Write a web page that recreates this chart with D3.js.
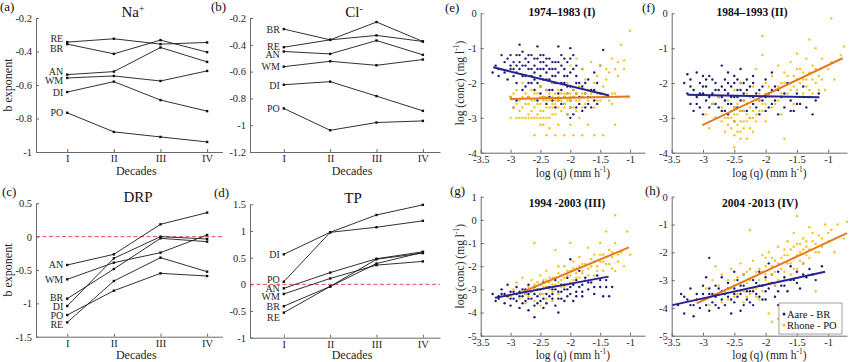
<!DOCTYPE html>
<html>
<head>
<meta charset="utf-8">
<script src="https://cdn.jsdelivr.net/npm/d3@7"></script>
<style>
  body { margin: 0; background: #fff; }
  svg { display: block; font-family: "Liberation Serif", "Times New Roman", serif; }
  .axis path, .axis line { stroke: #6a6a6a; }
  .lbl { fill: #262626; }
  .tag { font-size: 13px; fill: #111; }
</style>
</head>
<body>
<svg id="chart" width="850" height="362"></svg>
<script>
// ---- data ----
const decades = ["I", "II", "III", "IV"];

// (a) Na+
const naStations = ["RE", "BR", "AN", "WM", "DI", "PO"];
const naValues = [
  [-0.344, -0.324, -0.356, -0.346],
  [-0.356, -0.414, -0.332, -0.404],
  [-0.538, -0.520, -0.376, -0.462],
  [-0.558, -0.546, -0.576, -0.516],
  [-0.642, -0.580, -0.690, -0.756],
  [-0.766, -0.880, -0.910, -0.940]
];
const naLabelAt = [-0.32, -0.38, -0.522, -0.574, -0.646, -0.766];
const naTicks = [-1, -0.8, -0.6, -0.4, -0.2];

// (b) Cl-
const clStations = ["BR", "RE", "AN", "WM", "DI", "PO"];
const clValues = [
  [-0.283, -0.363, -0.230, -0.375],
  [-0.418, -0.363, -0.330, -0.375],
  [-0.450, -0.468, -0.368, -0.475],
  [-0.563, -0.523, -0.553, -0.510],
  [-0.698, -0.675, -0.783, -0.893],
  [-0.875, -1.038, -0.980, -0.968]
];
const clLabelAt = [-0.283, -0.415, -0.472, -0.563, -0.70, -0.875];
const clTicks = [-1.2, -1, -0.8, -0.6, -0.4, -0.2];

// (c) DRP
const drpStations = ["AN", "WM", "BR", "DI", "PO", "RE"];
const drpValues = [
  [-0.425, -0.265, 0.185, 0.36],
  [-0.64, -0.39, -0.24, 0.025],
  [-0.93, -0.485, -0.025, -0.075],
  [-1.04, -0.325, 0.0, -0.035],
  [-1.175, -0.81, -0.55, -0.59],
  [-1.285, -0.665, -0.315, -0.525]
];
const drpLabelAt = [-0.415, -0.64, -0.915, -1.04, -1.185, -1.315];
const drpTicks = [-1.5, -1, -0.5, 0, 0.5];

// (d) TP
const tpStations = ["DI", "PO", "AN", "WM", "BR", "RE"];
const tpValues = [
  [0.5625, 0.975, 1.30, 1.49],
  [0.05, 0.975, 1.07, 1.19],
  [-0.075, 0.22, 0.48, 0.61],
  [-0.18, 0.11, 0.36, 0.43],
  [-0.41, -0.04, 0.47, 0.585],
  [-0.53, -0.04, 0.39, 0.60]
];
const tpLabelAt = [0.5625, 0.094, -0.075, -0.22, -0.406, -0.625];
const tpTicks = [-1, -0.5, 0, 0.5, 1, 1.5];

// (e)-(h) log(q) vs log(conc)
const qTicks = [-3.5, -3, -2.5, -2, -1.5, -1];
const concTicks4 = [-4, -3, -2, -1, 0];
const concTicks6 = [-5, -4, -3, -2, -1, 0, 1];
const concTicks5 = [-5, -4, -3, -2, -1, 0];

const eAare = [[-3.3,-1.7],[-3.25,-1.5],[-3.2,-1.6],[-3.2,-1.8],[-3.15,-1.2],[-3.1,-1.4],[-3.1,-1.7],[-3.05,-1.9],[-3.0,-1.2],[-3.0,-1.5],[-3.0,-1.6],[-3.0,-2.4],[-2.95,-1.4],[-2.95,-1.8],[-2.95,-2.7],[-2.9,-1.2],[-2.9,-2.0],[-2.9,-2.5],[-2.85,-0.9],[-2.85,-1.4],[-2.85,-1.6],[-2.8,-1.1],[-2.8,-1.5],[-2.8,-2.2],[-2.75,-1.3],[-2.75,-1.8],[-2.7,-1.4],[-2.7,-2.0],[-2.7,-2.4],[-2.65,-1.2],[-2.65,-1.6],[-2.6,-1.5],[-2.6,-1.9],[-2.6,-2.2],[-2.55,-0.95],[-2.55,-1.3],[-2.55,-2.5],[-2.5,-1.4],[-2.5,-1.8],[-2.5,-2.1],[-2.45,-1.2],[-2.45,-1.6],[-2.45,-2.4],[-2.4,-1.5],[-2.4,-1.9],[-2.4,-2.6],[-2.35,-1.3],[-2.35,-2.2],[-2.3,-1.6],[-2.3,-2.0],[-2.3,-2.5],[-2.25,-1.4],[-2.25,-1.8],[-2.25,-2.7],[-2.2,-0.95],[-2.2,-2.3],[-2.15,-1.5],[-2.15,-2.0],[-2.15,-2.6],[-2.1,-1.3],[-2.1,-1.8],[-2.1,-2.4],[-2.05,-1.4],[-2.05,-2.1],[-2.05,-2.9],[-2.0,-1.0],[-2.0,-1.7],[-2.0,-2.5],[-2.0,-3.0],[-1.95,-1.2],[-1.95,-2.2],[-1.9,-1.5],[-1.9,-2.0],[-1.9,-2.7],[-1.85,-2.4],[-1.8,-1.6],[-1.8,-2.1],[-1.8,-2.8],[-1.75,-2.3],[-1.7,-1.9],[-1.7,-2.6],[-1.65,-2.2],[-1.6,-2.5],[-1.6,-1.7],[-1.55,-2.0],[-1.5,-2.3],[-1.5,-1.5],[-1.45,-1.05],
  [-3.05,-1.3],[-2.95,-1.6],[-2.9,-1.5],[-2.9,-1.7],[-2.85,-1.2],[-2.8,-1.8],[-2.75,-1.5],[-2.75,-2.1],[-2.7,-1.6],[-2.7,-1.2],[-2.65,-1.8],[-2.65,-2.0],[-2.6,-1.3],[-2.6,-1.7],[-2.55,-1.6],[-2.55,-2.0],[-2.5,-1.2],[-2.5,-1.6],[-2.5,-2.3],[-2.45,-1.4],[-2.45,-1.9],[-2.4,-1.3],[-2.4,-1.7],[-2.4,-2.2],[-2.35,-1.6],[-2.35,-1.9],[-2.35,-2.4],[-2.3,-1.4],[-2.3,-1.8],[-2.3,-2.2],[-2.25,-1.6],[-2.25,-2.0],[-2.2,-1.4],[-2.2,-1.7],[-2.2,-2.5],[-2.15,-1.2],[-2.15,-2.2],[-2.1,-1.6],[-2.1,-2.0],[-2.1,-2.6],[-2.05,-1.8],[-2.05,-2.3],[-2.0,-1.3],[-2.0,-2.1],[-2.0,-2.7],[-1.95,-1.6],[-1.95,-2.4],[-1.95,-2.9],[-1.9,-1.8],[-1.9,-2.3],[-1.85,-2.0],[-1.85,-2.6],[-1.8,-2.4],[-1.75,-2.0],[-1.75,-2.7],[-1.7,-2.4],[-1.65,-2.7],[-1.6,-2.2],[-1.55,-2.6]];
const eRhone = [[-3.0,-2.4],[-3.0,-3.0],[-2.95,-2.7],[-2.9,-2.2],[-2.9,-3.0],[-2.85,-2.5],[-2.85,-2.8],[-2.8,-2.0],[-2.8,-3.0],[-2.75,-2.3],[-2.75,-2.6],[-2.7,-2.9],[-2.7,-3.0],[-2.65,-2.2],[-2.65,-2.5],[-2.6,-2.7],[-2.6,-3.0],[-2.6,-3.5],[-2.55,-2.3],[-2.55,-2.9],[-2.5,-2.1],[-2.5,-2.6],[-2.5,-3.0],[-2.5,-3.2],[-2.45,-2.4],[-2.45,-2.8],[-2.4,-2.2],[-2.4,-2.5],[-2.4,-3.0],[-2.4,-3.5],[-2.35,-2.7],[-2.35,-3.3],[-2.3,-2.0],[-2.3,-2.4],[-2.3,-2.9],[-2.25,-2.6],[-2.25,-3.5],[-2.2,-2.2],[-2.2,-2.5],[-2.2,-3.2],[-2.15,-2.8],[-2.1,-2.3],[-2.1,-2.6],[-2.1,-3.5],[-2.05,-2.0],[-2.05,-2.9],[-2.0,-1.5],[-2.0,-2.4],[-2.0,-2.7],[-2.0,-3.2],[-1.95,-2.2],[-1.95,-3.5],[-1.9,-1.3],[-1.9,-2.5],[-1.9,-2.8],[-1.85,-2.1],[-1.85,-3.0],[-1.8,-2.3],[-1.8,-1.6],[-1.8,-3.5],[-1.75,-2.6],[-1.75,-1.9],[-1.7,-2.2],[-1.7,-3.2],[-1.65,-2.4],[-1.65,-1.4],[-1.6,-2.0],[-1.6,-2.7],[-1.6,-3.5],[-1.55,-1.8],[-1.55,-2.3],[-1.5,-2.5],[-1.5,-1.5],[-1.45,-2.1],[-1.45,-3.5],[-1.4,-1.9],[-1.4,-2.4],[-1.35,-1.7],[-1.3,-1.3],[-1.3,-2.3],[-1.3,-2.6],[-1.25,-3.2],[-1.25,-1.6],[-1.2,-1.4],[-1.2,-2.4],[-1.15,-0.9],[-1.1,-1.35],[-1.05,-2.4],[-1.0,-0.5],
  [-2.95,-2.3],[-2.9,-2.6],[-2.85,-3.0],[-2.8,-2.4],[-2.8,-2.7],[-2.75,-3.0],[-2.7,-2.4],[-2.7,-2.6],[-2.65,-2.8],[-2.65,-3.0],[-2.6,-2.3],[-2.6,-2.5],[-2.55,-2.6],[-2.55,-3.0],[-2.5,-2.4],[-2.5,-2.8],[-2.45,-2.5],[-2.45,-3.0],[-2.45,-3.2],[-2.4,-2.7],[-2.4,-2.4],[-2.35,-2.3],[-2.35,-2.5],[-2.35,-3.0],[-2.3,-2.6],[-2.3,-2.7],[-2.25,-2.3],[-2.25,-2.5],[-2.25,-2.9],[-2.2,-2.4],[-2.2,-2.7],[-2.15,-2.3],[-2.15,-2.5],[-2.1,-2.4],[-2.1,-2.7],[-2.05,-2.3],[-2.05,-2.5],[-2.0,-2.3],[-2.0,-2.5],[-1.95,-2.4],[-1.95,-2.7],[-1.9,-2.3],[-1.85,-2.5],[-1.8,-2.4],[-1.8,-2.7],[-1.75,-2.3],[-1.7,-2.5],[-1.65,-2.3],[-1.6,-2.4],[-1.55,-2.5],[-1.45,-2.3],[-1.35,-2.5],[-1.25,-2.3],[-1.4,-1.6],[-1.2,-1.8],[-1.1,-1.6]];
const eFitAare = [[-3.29, -1.55], [-1.35, -2.36]];
const eFitRhone = [[-3.01, -2.46], [-1.0, -2.39]];

const fAare = [[-3.3,-2.0],[-3.25,-1.75],[-3.25,-2.3],[-3.2,-2.6],[-3.2,-1.9],[-3.15,-2.2],[-3.15,-2.8],[-3.1,-1.7],[-3.1,-2.4],[-3.05,-2.0],[-3.05,-2.7],[-3.0,-1.8],[-3.0,-2.3],[-3.0,-2.9],[-2.95,-2.1],[-2.95,-2.5],[-2.9,-1.8],[-2.9,-2.7],[-2.85,-2.3],[-2.85,-1.9],[-2.8,-2.6],[-2.8,-2.0],[-2.8,-3.0],[-2.75,-2.4],[-2.75,-2.2],[-2.7,-1.5],[-2.7,-2.8],[-2.7,-2.1],[-2.65,-2.5],[-2.65,-1.9],[-2.6,-2.3],[-2.6,-2.9],[-2.6,-1.7],[-2.55,-2.6],[-2.55,-2.1],[-2.5,-2.4],[-2.5,-1.8],[-2.5,-3.1],[-2.45,-2.2],[-2.45,-2.7],[-2.4,-1.6],[-2.4,-2.5],[-2.4,-2.0],[-2.35,-2.8],[-2.35,-2.3],[-2.3,-1.9],[-2.3,-2.6],[-2.25,-2.1],[-2.25,-3.0],[-2.2,-2.4],[-2.2,-1.8],[-2.15,-2.7],[-2.1,-2.2],[-2.1,-2.9],[-2.05,-2.5],[-2.0,-1.9],[-2.0,-2.8],[-1.95,-2.3],[-1.9,-2.6],[-1.9,-1.7],[-1.85,-2.1],[-1.8,-2.9],[-1.75,-2.4],[-1.7,-2.7],[-1.65,-2.0],[-1.6,-2.5],[-1.55,-2.8],[-1.5,-2.3],[-1.45,-2.6],[-1.4,-2.1],[-1.35,-2.7],[-1.3,-2.4],[-1.25,-2.9],[-1.2,-2.5],[-1.15,-2.3],
  [-3.2,-2.1],[-3.1,-2.6],[-3.05,-2.3],[-3.0,-2.1],[-2.95,-1.9],[-2.9,-2.4],[-2.85,-2.6],[-2.8,-2.2],[-2.75,-2.7],[-2.7,-2.4],[-2.65,-2.2],[-2.65,-2.8],[-2.6,-2.0],[-2.6,-2.6],[-2.55,-2.4],[-2.5,-2.0],[-2.5,-2.7],[-2.45,-2.4],[-2.45,-1.9],[-2.4,-2.2],[-2.4,-2.8],[-2.35,-2.0],[-2.35,-2.5],[-2.3,-2.2],[-2.3,-2.8],[-2.25,-2.4],[-2.2,-2.0],[-2.2,-2.6],[-2.15,-2.3],[-2.1,-2.5],[-2.05,-2.1],[-2.0,-2.4],[-1.95,-2.7],[-1.9,-2.2],[-1.85,-2.5],[-1.8,-2.2],[-1.7,-2.3],[-1.6,-2.8],[-1.5,-2.6],[-1.4,-2.4]];
const fRhone = [[-3.0,-3.2],[-2.95,-2.9],[-2.9,-3.3],[-2.85,-2.6],[-2.8,-3.0],[-2.75,-2.4],[-2.7,-3.1],[-2.7,-2.7],[-2.65,-3.4],[-2.6,-2.5],[-2.6,-3.0],[-2.55,-2.8],[-2.55,-3.3],[-2.5,-2.2],[-2.5,-2.9],[-2.5,-3.5],[-2.5,-3.85],[-2.45,-2.6],[-2.45,-3.2],[-2.4,-2.0],[-2.4,-2.8],[-2.4,-3.4],[-2.35,-2.5],[-2.35,-3.1],[-2.3,-2.3],[-2.3,-2.9],[-2.3,-3.6],[-2.25,-2.7],[-2.25,-3.3],[-2.2,-2.1],[-2.2,-3.0],[-2.15,-2.5],[-2.15,-1.6],[-2.1,-2.8],[-2.1,-2.3],[-2.05,-0.65],[-2.05,-1.2],[-2.05,-2.6],[-2.0,-2.0],[-2.0,-3.1],[-1.95,-2.4],[-1.9,-1.8],[-1.9,-2.7],[-1.85,-2.2],[-1.8,-1.5],[-1.8,-2.5],[-1.75,-2.0],[-1.75,-2.9],[-1.7,-1.7],[-1.7,-3.6],[-1.65,-2.3],[-1.6,-1.4],[-1.6,-2.0],[-1.55,-2.6],[-1.55,-1.8],[-1.5,-1.15],[-1.5,-2.2],[-1.45,-1.6],[-1.45,-2.4],[-1.4,-1.9],[-1.35,-1.3],[-1.35,-2.1],[-1.3,-0.75],[-1.3,-1.7],[-1.25,-2.3],[-1.25,-1.5],[-1.2,-1.0],[-1.2,-2.0],[-1.15,-1.8],[-1.1,-1.3],[-1.05,-2.2],[-1.0,-1.6],[-0.95,-0.15],[-0.95,-1.4],[-0.9,-1.9],[-0.8,-1.2],[-0.75,-0.95],
  [-2.65,-3.0],[-2.6,-3.2],[-2.55,-3.0],[-2.5,-3.1],[-2.5,-2.7],[-2.45,-3.4],[-2.45,-2.9],[-2.4,-3.1],[-2.4,-3.6],[-2.35,-2.8],[-2.35,-3.3],[-2.3,-3.1],[-2.3,-2.6],[-2.25,-3.0],[-2.25,-2.4],[-2.2,-2.8],[-2.2,-3.4],[-2.15,-2.9],[-2.15,-3.1],[-2.1,-2.5],[-2.05,-2.8],[-2.0,-2.6],[-2.0,-2.3],[-1.95,-2.1],[-1.9,-2.4],[-1.85,-2.6],[-1.8,-2.1],[-1.75,-2.3],[-1.7,-2.0],[-1.65,-1.8],[-1.6,-2.2],[-1.55,-2.1],[-1.5,-1.9],[-1.5,-1.6],[-1.45,-2.0],[-1.4,-1.7],[-1.4,-2.3],[-1.35,-1.9],[-1.3,-2.2],[-1.25,-1.9],[-1.2,-1.6],[-1.15,-2.2],[-1.1,-1.9]];
const fFitAare = [[-3.25, -2.34], [-1.14, -2.41]];
const fFitRhone = [[-3.0, -3.2], [-0.77, -1.29]];

const gAare = [[-3.3,-3.2],[-3.25,-3.5],[-3.2,-3.3],[-3.15,-3.0],[-3.1,-3.6],[-3.1,-3.2],[-3.05,-2.8],[-3.0,-3.4],[-3.0,-3.7],[-2.95,-3.1],[-2.9,-3.5],[-2.9,-2.9],[-2.85,-3.8],[-2.85,-3.3],[-2.8,-3.0],[-2.8,-3.6],[-2.75,-3.2],[-2.7,-2.8],[-2.7,-3.9],[-2.7,-3.4],[-2.65,-3.1],[-2.6,-4.2],[-2.6,-3.7],[-2.6,-2.9],[-2.55,-3.3],[-2.5,-3.5],[-2.5,-3.0],[-2.45,-3.8],[-2.45,-2.7],[-2.4,-3.2],[-2.4,-3.6],[-2.35,-2.9],[-2.3,-3.4],[-2.3,-3.0],[-2.25,-3.7],[-2.25,-2.6],[-2.2,-3.1],[-2.2,-4.0],[-2.15,-2.8],[-2.15,-3.4],[-2.1,-3.0],[-2.05,-2.5],[-2.05,-3.3],[-2.0,-1.7],[-2.0,-2.9],[-1.95,-3.5],[-1.9,-2.6],[-1.9,-3.1],[-1.85,-2.2],[-1.8,-2.8],[-1.8,-3.3],[-1.75,-2.5],[-1.7,-3.0],[-1.65,-2.7],[-1.6,-3.2],[-1.55,-2.4],[-1.5,-2.9],[-1.45,-3.3],[-1.4,-2.6],[-1.35,-3.3],[-1.3,-2.9],
  [-3.2,-3.4],[-3.15,-3.2],[-3.05,-3.3],[-3.0,-3.1],[-2.95,-3.4],[-2.9,-3.2],[-2.85,-3.1],[-2.8,-3.3],[-2.75,-3.5],[-2.75,-3.0],[-2.7,-3.2],[-2.65,-3.4],[-2.6,-3.2],[-2.55,-3.0],[-2.55,-3.6],[-2.5,-3.2],[-2.45,-3.4],[-2.4,-2.9],[-2.35,-3.3],[-2.3,-3.2],[-2.25,-3.0],[-2.2,-3.4],[-2.15,-3.1],[-2.1,-2.8],[-2.1,-3.5],[-2.05,-3.0],[-2.0,-3.2],[-1.95,-2.8],[-1.9,-3.3],[-1.85,-2.9],[-1.8,-3.1],[-1.7,-2.7],[-1.6,-2.9],[-1.5,-2.6],[-1.4,-2.9]];
const gRhone = [[-3.0,-3.3],[-2.95,-3.0],[-2.9,-2.7],[-2.85,-3.4],[-2.8,-3.1],[-2.8,-2.5],[-2.75,-3.6],[-2.7,-2.9],[-2.7,-3.3],[-2.65,-2.6],[-2.6,-1.0],[-2.6,-3.0],[-2.6,-3.5],[-2.55,-2.7],[-2.5,-2.4],[-2.5,-3.2],[-2.5,-3.7],[-2.45,-2.9],[-2.4,-2.2],[-2.4,-2.6],[-2.4,-3.4],[-2.35,-3.0],[-2.3,-2.5],[-2.3,-3.5],[-2.25,-2.8],[-2.25,-1.3],[-2.2,-2.3],[-2.2,-3.2],[-2.15,-2.6],[-2.1,-2.0],[-2.1,-2.9],[-2.05,-2.4],[-2.0,-1.0],[-2.0,-2.7],[-2.0,-2.2],[-1.95,-1.8],[-1.9,-2.5],[-1.9,-2.1],[-1.85,-1.6],[-1.8,-2.3],[-1.8,-1.9],[-1.75,-2.6],[-1.7,-1.2],[-1.7,-2.1],[-1.65,-1.7],[-1.6,-2.4],[-1.6,-1.5],[-1.55,-2.0],[-1.5,-1.8],[-1.5,-1.0],[-1.45,-2.2],[-1.45,-1.5],[-1.4,-0.5],[-1.4,-1.9],[-1.35,-1.3],[-1.3,-2.1],[-1.3,-1.6],[-1.25,0.2],[-1.25,-1.0],[-1.2,-1.8],[-1.15,-1.4],[-1.1,-2.0],[-1.05,-0.5],[-1.0,-1.5],
  [-2.75,-3.2],[-2.7,-3.0],[-2.65,-3.1],[-2.6,-2.8],[-2.55,-3.0],[-2.5,-2.8],[-2.5,-3.0],[-2.45,-2.6],[-2.45,-3.2],[-2.4,-2.9],[-2.35,-2.7],[-2.35,-2.5],[-2.3,-2.8],[-2.3,-3.1],[-2.25,-2.5],[-2.2,-2.7],[-2.2,-2.0],[-2.15,-2.4],[-2.15,-2.9],[-2.1,-2.5],[-2.05,-2.2],[-2.05,-2.8],[-2.0,-2.4],[-1.95,-2.1],[-1.95,-2.6],[-1.9,-2.3],[-1.85,-2.0],[-1.85,-2.5],[-1.8,-2.2],[-1.75,-1.9],[-1.7,-2.4],[-1.65,-2.0],[-1.6,-1.8],[-1.55,-2.2],[-1.5,-1.5],[-1.45,-1.8],[-1.4,-1.6],[-1.35,-1.9],[-1.3,-1.4],[-1.2,-1.5],[-1.25,-2.2]];
const gFitAare = [[-3.26, -3.36], [-1.36, -2.45]];
const gFitRhone = [[-2.79, -3.1], [-1.02, -1.19]];

const hAare = [[-3.4,-3.9],[-3.35,-3.5],[-3.3,-4.2],[-3.25,-3.7],[-3.2,-3.3],[-3.15,-4.3],[-3.15,-3.9],[-3.1,-3.5],[-3.05,-4.0],[-3.0,-3.2],[-3.0,-3.7],[-2.95,-2.9],[-2.9,-2.2],[-2.9,-3.5],[-2.9,-4.1],[-2.85,-3.8],[-2.8,-3.2],[-2.8,-3.6],[-2.75,-4.0],[-2.7,-2.9],[-2.7,-3.4],[-2.65,-3.9],[-2.6,-3.1],[-2.6,-3.6],[-2.55,-4.2],[-2.5,-2.7],[-2.5,-3.3],[-2.5,-3.8],[-2.45,-3.0],[-2.4,-3.5],[-2.4,-4.1],[-2.35,-2.8],[-2.35,-3.2],[-2.3,-3.7],[-2.25,-2.6],[-2.25,-3.4],[-2.2,-3.0],[-2.2,-3.9],[-2.15,-3.5],[-2.1,-2.7],[-2.1,-3.2],[-2.05,-3.7],[-2.0,-2.9],[-2.0,-3.4],[-1.95,-2.4],[-1.9,-3.1],[-1.85,-3.6],[-1.8,-2.7],[-1.8,-3.9],[-1.75,-3.2],[-1.7,-2.9],[-1.65,-3.4],[-1.6,-2.5],[-1.55,-3.0],[-1.5,-2.7],[-1.45,-3.3],[-1.4,-2.4],[-1.35,-2.9],[-1.3,-2.6],[-1.2,-3.0],[-1.1,-2.5],
  [-3.3,-3.6],[-3.2,-3.9],[-3.1,-3.7],[-3.0,-3.5],[-2.95,-3.9],[-2.9,-3.3],[-2.85,-3.5],[-2.8,-3.9],[-2.75,-3.3],[-2.7,-3.7],[-2.65,-3.5],[-2.6,-3.3],[-2.55,-3.7],[-2.5,-3.5],[-2.45,-3.6],[-2.4,-3.2],[-2.35,-3.9],[-2.3,-3.4],[-2.25,-3.8],[-2.2,-3.4],[-2.15,-3.1],[-2.1,-3.6],[-2.05,-3.2],[-2.0,-3.7],[-1.95,-3.3],[-1.9,-2.8],[-1.85,-3.2],[-1.8,-3.4],[-1.7,-3.2],[-1.6,-3.0],[-1.5,-3.1],[-1.4,-2.8],[-1.25,-2.8]];
const hRhone = [[-3.0,-3.7],[-2.95,-3.3],[-2.9,-3.9],[-2.85,-3.0],[-2.8,-2.5],[-2.8,-3.5],[-2.75,-3.2],[-2.7,-3.8],[-2.7,-2.8],[-2.65,-3.4],[-2.6,-3.0],[-2.6,-3.7],[-2.55,-2.6],[-2.5,-3.2],[-2.5,-3.6],[-2.45,-2.9],[-2.4,-3.4],[-2.4,-2.4],[-2.35,-3.8],[-2.3,-3.1],[-2.3,-2.7],[-2.25,-1.2],[-2.25,-3.5],[-2.2,-2.9],[-2.2,-2.3],[-2.15,-3.3],[-2.1,-2.6],[-2.1,-3.7],[-2.05,-2.1],[-2.0,-3.0],[-2.0,-2.5],[-1.95,-4.2],[-1.95,-2.0],[-1.9,-2.8],[-1.9,-4.5],[-1.85,-2.3],[-1.85,-3.2],[-1.8,-1.8],[-1.8,-4.4],[-1.75,-2.6],[-1.7,-2.1],[-1.7,-3.0],[-1.65,-1.6],[-1.65,-2.4],[-1.6,-2.8],[-1.6,-1.9],[-1.55,-1.3],[-1.55,-2.2],[-1.5,-0.7],[-1.5,-2.6],[-1.5,-1.7],[-1.45,-2.0],[-1.4,-1.5],[-1.4,-2.4],[-1.35,-1.8],[-1.3,-1.1],[-1.3,-2.2],[-1.25,-1.6],[-1.2,-2.0],[-1.2,-3.4],[-1.15,-1.4],[-1.1,-1.8],[-1.05,-1.0],[-1.0,-1.6],[-0.95,-1.2],[-0.9,-2.0],[-0.85,-1.0],[-0.75,-1.5],[-0.7,-0.9],
  [-2.55,-3.3],[-2.5,-3.0],[-2.45,-3.5],[-2.4,-3.1],[-2.35,-2.8],[-2.35,-3.4],[-2.3,-3.6],[-2.25,-3.0],[-2.25,-2.6],[-2.2,-3.3],[-2.15,-2.7],[-2.15,-3.6],[-2.1,-3.0],[-2.05,-2.7],[-2.05,-3.4],[-2.0,-2.8],[-2.0,-2.2],[-1.95,-3.1],[-1.9,-2.5],[-1.9,-2.2],[-1.85,-2.7],[-1.8,-2.4],[-1.8,-3.0],[-1.75,-2.2],[-1.7,-2.7],[-1.7,-1.9],[-1.65,-2.1],[-1.6,-2.4],[-1.55,-1.8],[-1.55,-2.6],[-1.5,-2.1],[-1.45,-1.7],[-1.45,-2.3],[-1.4,-1.9],[-1.35,-1.6],[-1.35,-2.1],[-1.3,-1.9],[-1.25,-1.3],[-1.2,-1.7],[-1.15,-2.0],[-1.1,-1.5],[-1.0,-1.3]];
const hFitAare = [[-3.49, -3.9], [-1.05, -2.7]];
const hFitRhone = [[-3.1, -3.84], [-0.7, -1.31]];

const legendNames = ["Aare - BR", "Rhone - PO"];

// ---- drawing ----
const svg = d3.select('#chart');
const serif = '"Liberation Serif", "Times New Roman", serif';
const aareColor = '#1d1b78', rhoneColor = '#f6c21c';
const aareFit = '#24238f', rhoneFit = '#e5791f';

function withSup(t, base, sup, after) {
  t.text(base);
  t.append('tspan').attr('dy', -5).attr('font-size', '0.65em').text(sup);
  if (after) t.append('tspan').attr('dy', 5).text(after);
}

function axes(p, x, y, xAxis, yTicks) {
  svg.append('g').attr('class', 'axis')
    .attr('transform', `translate(0,${p.bottom})`)
    .call(xAxis.tickSizeInner(-3).tickSizeOuter(0).tickPadding(3))
    .attr('font-family', serif).attr('font-size', 10.5)
    .selectAll('text').attr('fill', '#262626');
  svg.append('g').attr('class', 'axis')
    .attr('transform', `translate(${p.left},0)`)
    .call(d3.axisLeft(y).tickValues(yTicks).tickFormat(v => String(v))
      .tickSizeInner(-3).tickSizeOuter(0).tickPadding(4))
    .attr('font-family', serif).attr('font-size', 10.5)
    .selectAll('text').attr('fill', '#262626');
}

function tag(x, y, str) {
  svg.append('text').attr('class', 'tag').attr('x', x).attr('y', y).text(str);
}

function linePanel(p) {
  const x = d3.scaleLinear().domain(p.xDomain).range([p.left, p.right]);
  const y = d3.scaleLinear().domain(p.yDomain).range([p.bottom, p.top]);
  axes(p, x, y, d3.axisBottom(x).tickValues([1, 2, 3, 4]).tickFormat(i => decades[i - 1]), p.ticks);

  if (p.zero) {
    svg.append('line').attr('x1', p.left).attr('x2', p.right)
      .attr('y1', y(0)).attr('y2', y(0))
      .attr('stroke', '#e0383a').attr('stroke-width', 0.9).attr('stroke-dasharray', '4,2.5');
  }
  const line = d3.line().x((d, i) => x(i + 1)).y(d => y(d));
  p.values.forEach((vals, k) => {
    svg.append('path').attr('d', line(vals)).attr('fill', 'none')
      .attr('stroke', '#1a1a1a').attr('stroke-width', 0.9);
    svg.append('g').selectAll('rect').data(vals).join('rect')
      .attr('x', (d, i) => x(i + 1) - 1.2).attr('y', d => y(d) - 1.2)
      .attr('width', 2.4).attr('height', 2.4).attr('fill', '#111');
    svg.append('text').attr('x', x(1) - 4).attr('y', y(p.labelAt[k]))
      .attr('dy', '0.35em').attr('text-anchor', 'end')
      .attr('font-size', '10px').attr('fill', '#262626').text(p.stations[k]);
  });
  svg.append('text').attr('class', 'lbl').attr('text-anchor', 'middle')
    .attr('x', (p.left + p.right) / 2 + 7).attr('y', Math.min(p.bottom + 23, 358.5))
    .attr('font-size', '12px').text('Decades');
  if (p.yLabel) {
    svg.append('text').attr('class', 'lbl').attr('text-anchor', 'middle').attr('font-size', '12px')
      .attr('transform', `translate(12,${(p.top + p.bottom) / 2}) rotate(-90)`)
      .text('b exponent');
  }
  const tt = svg.append('text').attr('x', p.titleX).attr('y', p.top - 1)
    .attr('text-anchor', 'middle').attr('font-size', '15px').attr('fill', '#111');
  if (p.sup) withSup(tt, p.title, p.sup); else tt.text(p.title);
  tag(p.tagX, p.top - 7, p.tag);
}

function scatterPanel(p) {
  const x = d3.scaleLinear().domain(p.xDomain).range([p.left, p.right]);
  const y = d3.scaleLinear().domain(p.yDomain).range([p.bottom, p.top]);
  axes(p, x, y, d3.axisBottom(x).tickValues(qTicks).tickFormat(v => String(v)), p.ticks);

  [[p.aare, aareColor], [p.rhone, rhoneColor]].forEach(([pts, col]) => {
    svg.append('g').selectAll('circle').data(pts).join('circle')
      .attr('cx', d => x(d[0])).attr('cy', d => y(d[1]))
      .attr('r', 1.2).attr('fill', col);
  });
  const fl = d3.line().x(d => x(d[0])).y(d => y(d[1]));
  [[p.fitRhone, rhoneFit], [p.fitAare, aareFit]].forEach(([seg, col]) => {
    svg.append('path').attr('d', fl(seg)).attr('stroke', col)
      .attr('stroke-width', 2).attr('fill', 'none');
  });

  const xl = svg.append('text').attr('class', 'lbl').attr('text-anchor', 'middle')
    .attr('x', (p.left + p.right) / 2 + 10).attr('y', Math.min(p.bottom + 24, 359))
    .attr('font-size', '11.5px');
  withSup(xl, 'log (q) (mm h', '-1', ')');
  if (p.yLabel) {
    const yl = svg.append('text').attr('class', 'lbl').attr('text-anchor', 'middle')
      .attr('font-size', '11.5px')
      .attr('transform', `translate(464,${(p.top + p.bottom) / 2}) rotate(-90)`);
    withSup(yl, 'log (conc) (mg l', '-1', ')');
  }
  svg.append('text').attr('x', p.titleX).attr('y', p.titleY).attr('text-anchor', 'middle')
    .attr('font-size', '11.5px').attr('font-weight', 'bold').attr('fill', '#111').text(p.title);
  tag(p.tagX, p.tagY, p.tag);

  if (p.legend) {
    const lg = svg.append('g');
    lg.append('rect').attr('x', 779).attr('y', 303).attr('width', 63).attr('height', 31)
      .attr('fill', '#fff').attr('stroke', '#8a8a8a').attr('stroke-width', 0.8);
    legendNames.forEach((n, i) => {
      lg.append('circle').attr('cx', 784).attr('cy', 314 + i * 11).attr('r', 1.5)
        .attr('fill', i ? rhoneColor : aareColor);
      lg.append('text').attr('x', 787).attr('y', 314 + i * 11).attr('dy', '0.35em')
        .attr('font-size', '10.5px').attr('fill', '#111').text(n);
    });
  }
}

linePanel({ left: 36, right: 222.5, top: 18, bottom: 152, xDomain: [0.33, 4.33], yDomain: [-1, -0.2],
  ticks: naTicks, stations: naStations, values: naValues, labelAt: naLabelAt,
  title: 'Na', sup: '+', titleX: 133, tag: '(a)', tagX: 0, yLabel: true });
linePanel({ left: 250, right: 440, top: 18, bottom: 152, xDomain: [0.27, 4.37], yDomain: [-1.2, -0.2],
  ticks: clTicks, stations: clStations, values: clValues, labelAt: clLabelAt,
  title: 'Cl', sup: '-', titleX: 354, tag: '(b)', tagX: 211 });
linePanel({ left: 36, right: 222.5, top: 203.3, bottom: 336.7, xDomain: [0.33, 4.33], yDomain: [-1.5, 0.5],
  ticks: drpTicks, stations: drpStations, values: drpValues, labelAt: drpLabelAt,
  title: 'DRP', titleX: 138, tag: '(c)', tagX: 2, yLabel: true, zero: true });
linePanel({ left: 250, right: 440, top: 204.3, bottom: 337.7, xDomain: [0.27, 4.37], yDomain: [-1, 1.5],
  ticks: tpTicks, stations: tpStations, values: tpValues, labelAt: tpLabelAt,
  title: 'TP', titleX: 353, tag: '(d)', tagX: 214, zero: true });

scatterPanel({ left: 480.7, right: 645, top: 13.3, bottom: 152.7, xDomain: [-3.5, -0.75], yDomain: [-4, 0],
  ticks: concTicks4, aare: eAare, rhone: eRhone, fitAare: eFitAare, fitRhone: eFitRhone,
  title: '1974\u20131983 (I)', titleX: 562, titleY: 16, tag: '(e)', tagX: 445, tagY: 12, yLabel: true });
scatterPanel({ left: 671.7, right: 847, top: 13.3, bottom: 152.7, xDomain: [-3.5, -0.7], yDomain: [-4, 0],
  ticks: concTicks4, aare: fAare, rhone: fRhone, fitAare: fFitAare, fitRhone: fFitRhone,
  title: '1984\u20131993 (II)', titleX: 752, titleY: 16, tag: '(f)', tagX: 642, tagY: 12 });
scatterPanel({ left: 480.7, right: 645, top: 196.7, bottom: 335.7, xDomain: [-3.5, -0.75], yDomain: [-5, 1],
  ticks: concTicks6, aare: gAare, rhone: gRhone, fitAare: gFitAare, fitRhone: gFitRhone,
  title: '1994 -2003 (III)', titleX: 567, titleY: 207, tag: '(g)', tagX: 450, tagY: 195, yLabel: true });
scatterPanel({ left: 671.7, right: 847, top: 196.7, bottom: 335.7, xDomain: [-3.5, -0.7], yDomain: [-5, 0],
  ticks: concTicks5, aare: hAare, rhone: hRhone, fitAare: hFitAare, fitRhone: hFitRhone,
  title: '2004 -2013 (IV)', titleX: 760, titleY: 207, tag: '(h)', tagX: 645, tagY: 195, legend: true });
</script>
</body>
</html>
